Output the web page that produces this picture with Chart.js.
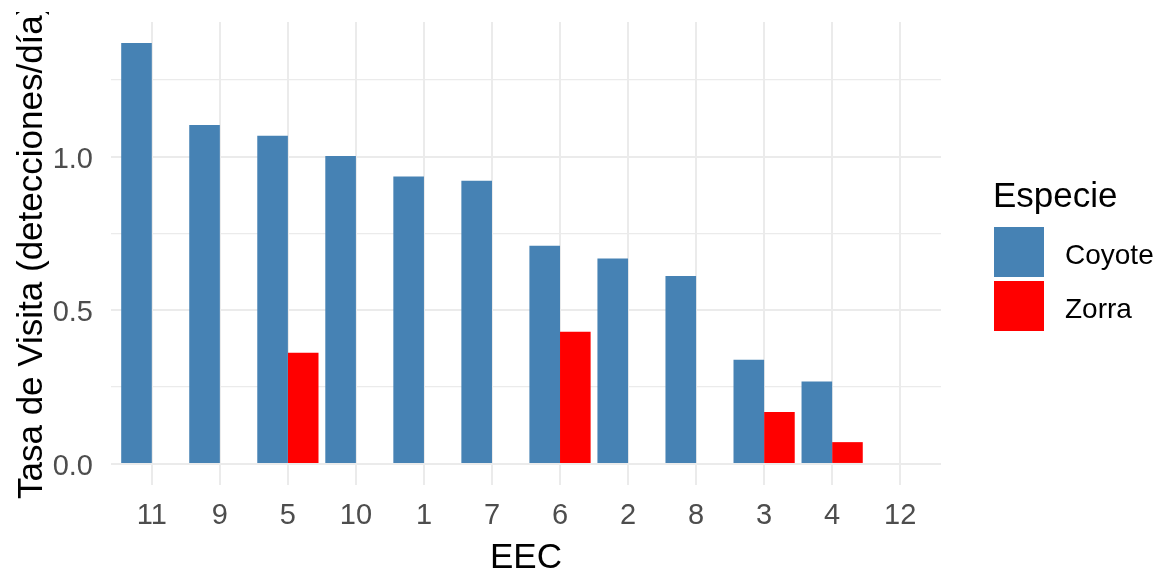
<!DOCTYPE html>
<html>
<head>
<meta charset="utf-8">
<script src="https://cdn.jsdelivr.net/npm/chart.js@4/dist/chart.umd.min.js"></script>
<style>
  html, body { margin: 0; padding: 0; background: #fff; }
  #wrap { width: 1157px; height: 571px; }
</style>
</head>
<body>
<div id="wrap"><canvas id="c" width="1157" height="571"></canvas></div>
<script>
// ---- data ----
const categories = ['11', '9', '5', '10', '1', '7', '6', '2', '8', '3', '4', '12'];
const coyote = [1.370, 1.103, 1.068, 1.002, 0.936, 0.922, 0.710, 0.669, 0.612, 0.339, 0.268, null];
const zorra  = [null, null, 0.362, null, null, null, 0.430, null, null, 0.169, 0.071, null];
const seriesNames = ['Coyote', 'Zorra'];
const seriesColors = ['#4682B4', '#FF0000'];
const yTickValues = [0, 0.25, 0.5, 0.75, 1.0, 1.25];
const yLabelled = [0, 0.5, 1.0];
const xTitle = 'EEC';
const yTitle = 'Tasa de Visita (detecciones/día)';
const legendTitle = 'Especie';

const FONT = '"Liberation Sans", Arial, sans-serif';

const toPoints = arr => arr.map((v, i) => ({ x: i + 1, y: v }));

const yTitlePlugin = {
  id: 'yTitle',
  afterDraw(chart) {
    const ctx = chart.ctx;
    ctx.save();
    ctx.beginPath();
    ctx.rect(0, 12, 80, 571);
    ctx.clip();
    ctx.translate(42, 499);
    ctx.rotate(-Math.PI / 2);
    ctx.font = '35px ' + FONT;
    ctx.fillStyle = '#000';
    ctx.textAlign = 'left';
    ctx.textBaseline = 'alphabetic';
    ctx.fillText(yTitle, 0, 0);
    ctx.restore();
  }
};

const legendPlugin = {
  id: 'ggLegend',
  afterDraw(chart) {
    const ctx = chart.ctx;
    ctx.save();
    ctx.fillStyle = '#000';
    ctx.font = '35px ' + FONT;
    ctx.textAlign = 'left';
    ctx.textBaseline = 'alphabetic';
    ctx.fillText(legendTitle, 993, 207);
    const boxX = 994, boxW = 50, boxH = 50, startY = 227, step = 54;
    chart.data.datasets.forEach((ds, i) => {
      const y = startY + i * step;
      ctx.fillStyle = ds.backgroundColor;
      ctx.fillRect(boxX, y, boxW, boxH);
      ctx.fillStyle = '#000';
      ctx.font = '28px ' + FONT;
      ctx.fillText(ds.label, 1065, y + 37);
    });
    ctx.restore();
  }
};

new Chart(document.getElementById('c'), {
  type: 'bar',
  data: {
    datasets: [
      { label: seriesNames[0], data: toPoints(coyote), backgroundColor: seriesColors[0], borderWidth: 0 },
      { label: seriesNames[1], data: toPoints(zorra), backgroundColor: seriesColors[1], borderWidth: 0 }
    ]
  },
  options: {
    responsive: false,
    animation: false,
    devicePixelRatio: 1,
    categoryPercentage: 0.9,
    barPercentage: 1.0,
    layout: { padding: { top: 22, right: 216, left: 0, bottom: 0 } },
    plugins: { legend: { display: false }, tooltip: { enabled: false } },
    scales: {
      x: {
        type: 'linear',
        offset: false,
        min: 0.4,
        max: categories.length + 0.6,
        afterBuildTicks: s => { s.ticks = categories.map((c, i) => ({ value: i + 1 })); },
        afterFit: s => { s.height = 86; s.paddingLeft = 0; s.paddingRight = 0; },
        border: { display: false },
        grid: { color: '#EBEBEB', lineWidth: 2, drawTicks: false, offset: false },
        ticks: {
          padding: 14,
          color: '#4D4D4D',
          font: { family: FONT, size: 29 },
          maxRotation: 0,
          autoSkip: false,
          callback: v => categories[Math.round(v) - 1] || ''
        },
        title: {
          display: true,
          text: xTitle,
          color: '#000',
          font: { family: FONT, size: 35, lineHeight: 0.75 },
          padding: { top: 0, bottom: 0 }
        }
      },
      y: {
        min: -0.0685,
        max: 1.4385,
        afterBuildTicks: s => { s.ticks = yTickValues.map(v => ({ value: v })); },
        afterFit: s => { s.width = 111; s.paddingTop = 0; s.paddingBottom = 0; },
        border: { display: false },
        grid: {
          color: '#EBEBEB',
          drawTicks: false,
          lineWidth: c => (yLabelled.some(v => Math.abs(v - c.tick.value) < 1e-9) ? 2 : 1.3)
        },
        ticks: {
          padding: 18,
          labelOffset: 3,
          color: '#4D4D4D',
          font: { family: FONT, size: 29 },
          autoSkip: false,
          callback: v => (yLabelled.some(t => Math.abs(t - v) < 1e-9) ? v.toFixed(1) : '')
        }
      }
    }
  },
  plugins: [yTitlePlugin, legendPlugin]
});
</script>
</body>
</html>
